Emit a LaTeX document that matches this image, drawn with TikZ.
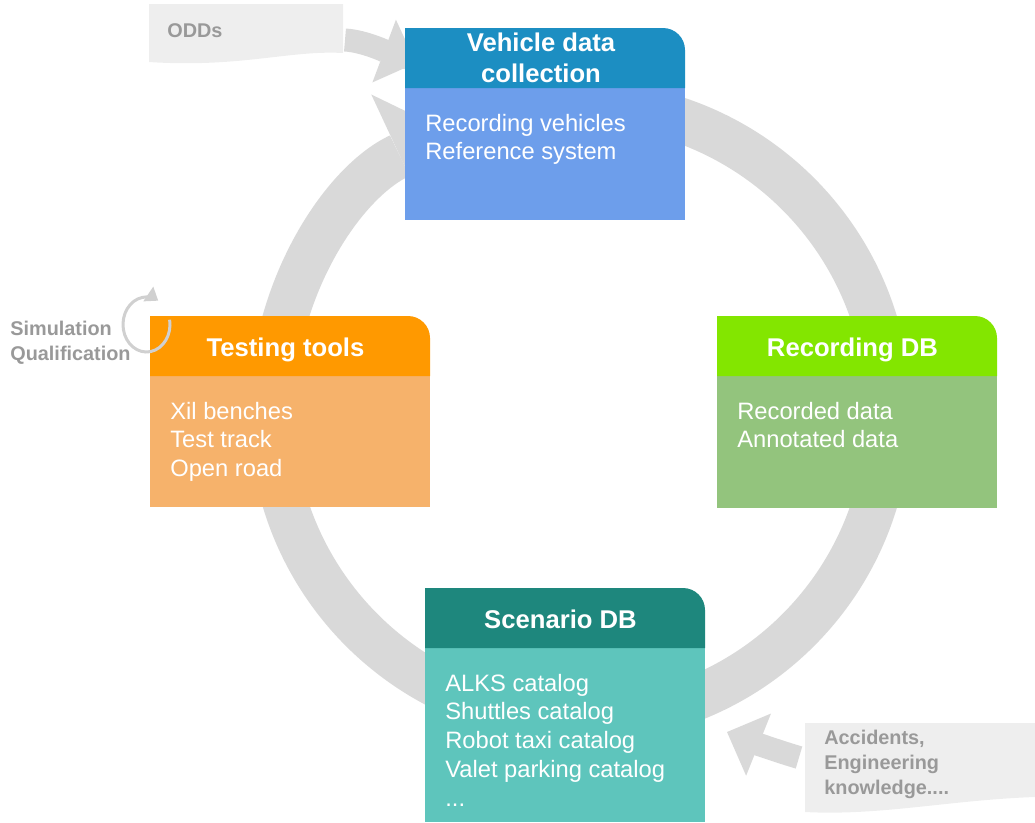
\documentclass[tikz,border=0pt]{standalone}
\usepackage{fontspec}
\setmainfont{Liberation Sans}
\usetikzlibrary{arrows.meta}

\definecolor{vehhead}{RGB}{28,142,194}
\definecolor{vehbody}{RGB}{109,158,235}
\definecolor{testhead}{RGB}{255,153,0}
\definecolor{testbody}{RGB}{246,178,107}
\definecolor{rechead}{RGB}{131,230,0}
\definecolor{recbody}{RGB}{147,196,125}
\definecolor{scenhead}{RGB}{30,135,125}
\definecolor{scenbody}{RGB}{94,197,188}
\definecolor{ringgray}{RGB}{217,217,217}
\definecolor{docgray}{RGB}{238,238,238}
\definecolor{labelgray}{RGB}{153,153,153}
\definecolor{loopgray}{RGB}{208,208,208}

\begin{document}
\begin{tikzpicture}[x=0.02cm, y=-0.02cm,
  title/.style={text=white, inner sep=0, align=center, font=\bfseries\fontsize{14.6}{17.6}\selectfont},
  item/.style={text=white, inner sep=0, anchor=north west, align=left, font=\fontsize{13.5}{16.45}\selectfont},
  side/.style={text=labelgray, inner sep=0, align=left, font=\bfseries\fontsize{11.3}{14.2}\selectfont},
  feed/.style={draw=ringgray, line width=0.46cm, -{Triangle[length=0.68cm, width=1.34cm, line width=0pt]}}]
\useasboundingbox (0,0) rectangle (1035,822);

% the big cycle, running clockwise behind the boxes
\coordinate (C) at (580,412);
\draw [draw=ringgray, line width=0.9cm, -{Triangle[length=1.1cm, width=2.7cm, line width=0pt]}]
  ([shift={(-90:308.5)}]C) arc [start angle=-90, end angle=245, radius=308.5];

% inputs from outside
\coordinate (odds out) at (345,40);
\coordinate (odds in) at (416,63);
\draw [feed] (odds out) .. controls (365,41) and (392,54) .. (odds in);
\coordinate (acc out) at (799,757.5);
\coordinate (acc in) at (727,732);
\draw [feed] (acc out) .. controls (780,752) and (752,742) .. (acc in);

\fill [docgray] (149,4) -- (343,4) -- (343,53) .. controls (290,50) and (240,68) .. (149,62) -- cycle;
\node (odds) at (167,37) [side, anchor=base west] {ODDs};
\fill [docgray] (805,723) -- (1035,723) -- (1035,797) .. controls (950,800) and (880,816) .. (805,812) -- cycle;
\node (acc) at (824,729.5) [side, anchor=north west] {Accidents,\\Engineering\\knowledge....};

% Vehicle data collection
\fill [vehbody] (405,88) rectangle (685,220);
\fill [vehhead] (405,88) |- (663,28) arc [start angle=-90, end angle=0, radius=22] -- (685,88) -- cycle;
\node (vtitle) at (541,57.5) [title] {Vehicle data\\collection};
\node (vitems) at (425,113.5) [item] {Recording vehicles\\Reference system};

% Recording DB
\fill [recbody] (717,376) rectangle (997,508);
\fill [rechead] (717,376) |- (975,316) arc [start angle=-90, end angle=0, radius=22] -- (997,376) -- cycle;
\node (rtitle) at (852.5,356.5) [title, anchor=base] {Recording DB};
\node (ritems) at (737,401.5) [item] {Recorded data\\Annotated data};

% Scenario DB
\fill [scenbody] (425,648) rectangle (705,822);
\fill [scenhead] (425,648) |- (683,588) arc [start angle=-90, end angle=0, radius=22] -- (705,648) -- cycle;
\node (stitle) at (560.5,628.5) [title, anchor=base] {Scenario DB};
\node (sitems) at (445,673.5) [item] {ALKS catalog\\Shuttles catalog\\Robot taxi catalog\\Valet parking catalog\\...};

% Testing tools
\fill [testbody] (150,376) rectangle (430,507);
\fill [testhead] (150,376) |- (408,316) arc [start angle=-90, end angle=0, radius=22] -- (430,376) -- cycle;
\node (ttitle) at (285.5,356.5) [title, anchor=base] {Testing tools};
\node (titems) at (170,401.5) [item] {Xil benches\\Test track\\Open road};

% small loop next to the testing box
\node (sim) at (10,320.5) [side, anchor=north west] {Simulation\\Qualification};
\coordinate (S) at (146.5,324.5);
\draw [draw=loopgray, line width=0.06cm, -{Triangle[length=0.24cm, width=0.34cm]}]
  ([shift={(-10:23.5 and 27.5)}]S) arc [start angle=-10, end angle=300, x radius=23.5, y radius=27.5];
\end{tikzpicture}
\end{document}
